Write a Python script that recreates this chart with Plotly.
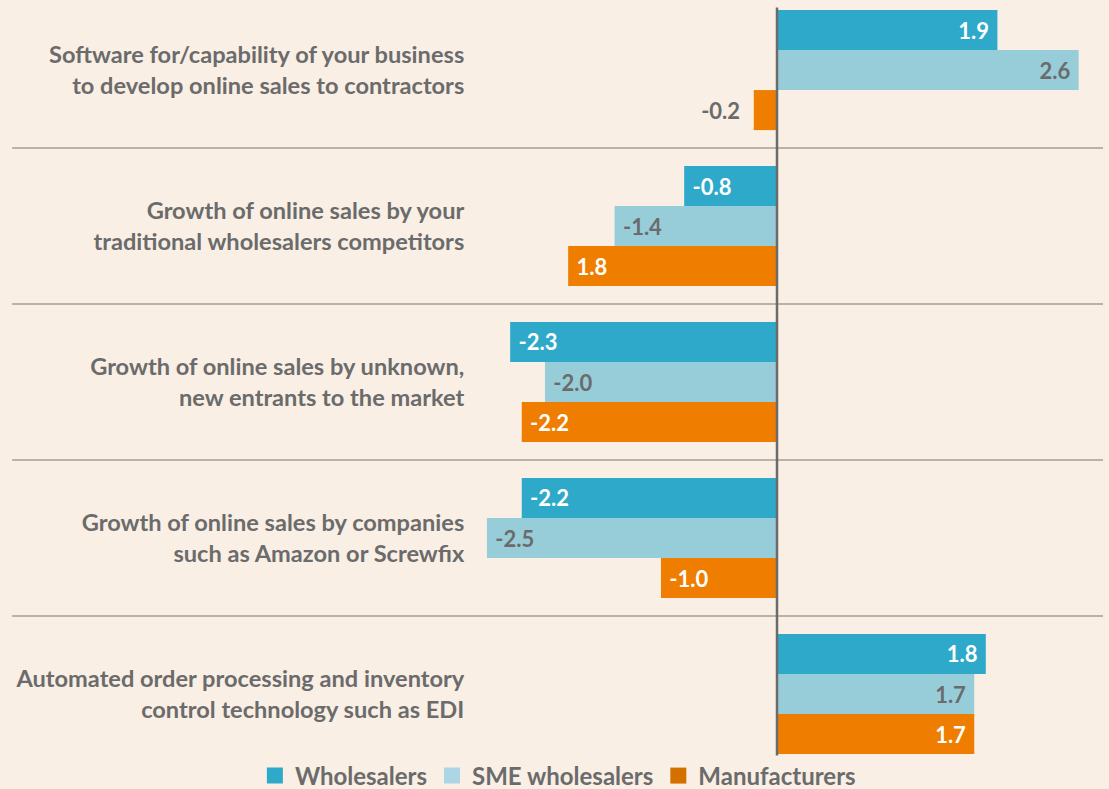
import plotly.graph_objects as go

categories = [
    "Software for/capability of your business<br>to develop online sales to contractors",
    "Growth of online sales by your<br>traditional wholesalers competitors",
    "Growth of online sales by unknown,<br>new entrants to the market",
    "Growth of online sales by companies<br>such as Amazon or Screwfix",
    "Automated order processing and inventory<br>control technology such as EDI",
]
series_names = ["Wholesalers", "SME wholesalers", "Manufacturers"]
wholesalers = [1.9, -0.8, -2.3, -2.2, 1.8]
sme_wholesalers = [2.6, -1.4, -2.0, -2.5, 1.7]
manufacturers = [-0.2, -1.8, -2.2, -1.0, 1.7]
wholesalers_labels = ["1.9", "-0.8", "-2.3", "-2.2", "1.8"]
sme_labels = ["2.6", "-1.4", "-2.0", "-2.5", "1.7"]
manufacturers_labels = ["-0.2", "1.8", "-2.2", "-1.0", "1.7"]

colors = ["#2ea9c9", "#96cdd9", "#ef7d00"]
legend_colors = ["#2ea9c9", "#acd5e6", "#d47000"]
text_colors = ["white", "#6b6b6b", "white"]
GRAY = "#6b6b6b"
BG = "#f9efe5"
FONT = "Lato"
NB = "\u00a0"

fig = go.Figure()
for name, vals, labels, col, tcol in zip(
    series_names,
    [wholesalers, sme_wholesalers, manufacturers],
    [wholesalers_labels, sme_labels, manufacturers_labels],
    colors, text_colors,
):
    positions = ["outside" if abs(v) < 0.5 else "inside" for v in vals]
    templates = []
    for v, p in zip(vals, positions):
        if p == "outside":
            templates.append("%{text}" + NB + NB)
        elif v < 0:
            templates.append(NB + "%{text}")
        else:
            templates.append("%{text}" + NB)
    fig.add_trace(go.Bar(
        name=name, y=categories, x=vals, orientation="h",
        marker=dict(color=col, line=dict(width=0)),
        text=labels, texttemplate=templates, textposition=positions,
        insidetextanchor="end",
        insidetextfont=dict(color=tcol, size=22, family=FONT, weight="bold"),
        outsidetextfont=dict(color=GRAY, size=22, family=FONT, weight="bold"),
        textfont=dict(family=FONT, size=22, weight="bold"),
        cliponaxis=False, showlegend=False, hoverinfo="skip",
    ))

for name, lc in zip(series_names, legend_colors):
    fig.add_trace(go.Scatter(
        name=name, x=[None], y=[None], mode="markers",
        marker=dict(symbol="square", size=17, color=lc), showlegend=True,
        hoverinfo="skip",
    ))

shapes = []
for i in range(len(categories) - 1):
    shapes.append(dict(type="line", xref="paper", yref="y",
                       x0=-0.751, x1=1.0, y0=i + 0.5, y1=i + 0.5,
                       line=dict(color="#a39d98", width=1.5), layer="below"))
shapes.append(dict(type="line", xref="x", yref="paper", x0=0, x1=0,
                   y0=0.006, y1=0.99, line=dict(color=GRAY, width=2.5), layer="above"))

fig.update_layout(
    width=1109, height=789,
    paper_bgcolor=BG, plot_bgcolor=BG,
    margin=dict(l=480, r=6, t=0, b=29, autoexpand=False),
    barmode="group", bargap=0.23, bargroupgap=0,
    font=dict(family=FONT, color=GRAY, size=22),
    xaxis=dict(range=[-2.56, 2.81], showgrid=False, zeroline=False,
               showticklabels=False, showline=False, fixedrange=True),
    yaxis=dict(range=[4.423, -0.449], showgrid=False, zeroline=False,
               showline=False, ticks="outside", ticklen=10, tickcolor="rgba(0,0,0,0)",
               tickfont=dict(family=FONT, size=23.6, color=GRAY, weight="bold"),
               fixedrange=True),
    shapes=shapes,
    legend=dict(orientation="h", x=0.125, xanchor="center",
                yref="container", y=(789 - 776) / 789, yanchor="middle",
                font=dict(family=FONT, size=24, color=GRAY, weight="bold"),
                bgcolor="rgba(0,0,0,0)", traceorder="normal", itemsizing="trace",
                tracegroupgap=0),
)
fig.write_html(
    "out.html",
    config={"displayModeBar": False},
    post_script="document.body.style.margin='0';document.body.style.background='" + BG + "';",
)
